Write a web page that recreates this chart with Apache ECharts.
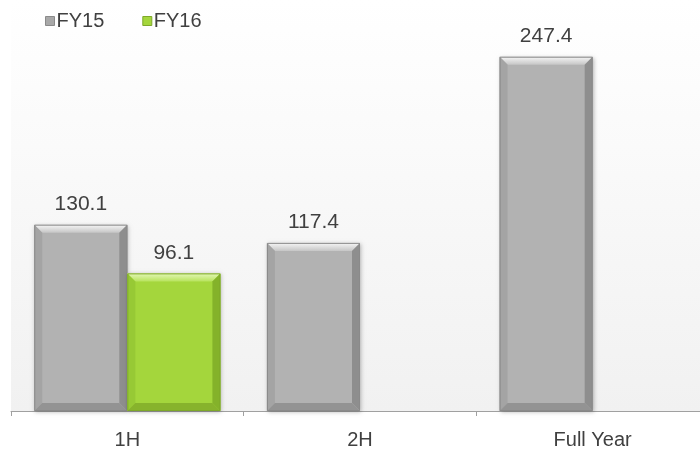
<!DOCTYPE html>
<html>
<head>
<meta charset="utf-8">
<title>FY15 vs FY16</title>
<script src="https://cdn.jsdelivr.net/npm/echarts@6/dist/echarts.min.js"></script>
<style>
  html, body { margin: 0; padding: 0; overflow: hidden; background: #ffffff; }
  /* the category axis runs a little past the right edge of the view */
  #chart { width: 709px; height: 450px; }
</style>
</head>
<body>
<div id="chart"></div>
<script>
const categories = ['1H', '2H', 'Full Year'];
const seriesNames = ['FY15', 'FY16'];
const fy15 = [130.1, 117.4, 247.4];
const fy16 = [96.1, null, null];

// Bevelled bar colours: face, top highlight, left edge, right edge, bottom edge, outline
const palettes = {
  FY15: { face: '#b2b2b2', hiTop: '#f6f6f6', hiEnd: '#c6c6c6', left: '#a4a4a4', right: '#8e8e8e', bottom: '#939393', line: '#8a8a8a' },
  FY16: { face: '#a4d63c', hiTop: '#e4f7b8', hiEnd: '#b8e35e', left: '#97c935', right: '#84b22a', bottom: '#87b32c', line: '#7ea82a' }
};

function toPairs(values) {
  const out = [];
  values.forEach((v, i) => { if (v != null) out.push([i, v]); });
  return out;
}

// Draws one bevelled bar; slot is -1 (left half of the band) or +1 (right half)
function bevelRenderer(slot, pal) {
  return function (params, api) {
    const cat = api.value(0);
    const val = api.value(1);
    const topPt = api.coord([cat, val]);
    const basePt = api.coord([cat, 0]);
    const band = api.size([1, 0])[0];
    const w = band * 0.4;
    const cx = topPt[0] + slot * band * 0.2;
    const x0 = cx - w / 2, x1 = cx + w / 2;
    const y0 = topPt[1], y1 = basePt[1];
    const b = Math.min(8, (y1 - y0) / 3);
    return {
      type: 'group',
      children: [
        {
          type: 'rect',
          shape: { x: x0, y: y0, width: w, height: y1 - y0 },
          style: { fill: pal.face, shadowBlur: 4, shadowColor: 'rgba(0,0,0,0.28)', shadowOffsetX: 1, shadowOffsetY: 1 }
        },
        {
          type: 'polygon',
          shape: { points: [[x0, y0], [x1, y0], [x1 - b, y0 + b], [x0 + b, y0 + b]] },
          style: { fill: new echarts.graphic.LinearGradient(0, 0, 0, 1, [
            { offset: 0, color: pal.hiTop }, { offset: 1, color: pal.hiEnd }]) }
        },
        {
          type: 'polygon',
          shape: { points: [[x0, y0], [x0 + b, y0 + b], [x0 + b, y1 - b], [x0, y1]] },
          style: { fill: pal.left }
        },
        {
          type: 'polygon',
          shape: { points: [[x1, y0], [x1, y1], [x1 - b, y1 - b], [x1 - b, y0 + b]] },
          style: { fill: pal.right }
        },
        {
          type: 'polygon',
          shape: { points: [[x0, y1], [x0 + b, y1 - b], [x1 - b, y1 - b], [x1, y1]] },
          style: { fill: pal.bottom }
        },
        {
          type: 'rect',
          shape: { x: x0 + 0.5, y: y0 + 0.5, width: w - 1, height: y1 - y0 - 1 },
          style: { fill: 'none', stroke: pal.line, lineWidth: 1 }
        },
        {
          type: 'text',
          x: cx,
          y: y0 - 10,
          style: {
            text: val.toFixed(1),
            align: 'center',
            verticalAlign: 'bottom',
            fill: '#404040',
            font: '21px "Liberation Sans", Arial, sans-serif'
          }
        }
      ]
    };
  };
}

const chart = echarts.init(document.getElementById('chart'), null, { renderer: 'canvas' });

chart.setOption({
  animation: false,
  backgroundColor: '#ffffff',
  textStyle: { fontFamily: '"Liberation Sans", Arial, sans-serif' },
  // soft plot-area wash from white at the top down to light grey at the axis
  graphic: [{
    type: 'rect',
    left: 11,
    top: 0,
    z: -10,
    silent: true,
    shape: { width: 698, height: 411 },
    style: {
      fill: new echarts.graphic.LinearGradient(0, 0, 0, 1, [
        { offset: 0, color: '#ffffff' },
        { offset: 1, color: '#f1f1f1' }
      ])
    }
  }],
  legend: {
    left: 40,
    top: 6,
    icon: 'rect',
    itemWidth: 9,
    itemHeight: 9,
    itemGap: 38,
    textStyle: { fontSize: 20, color: '#404040', padding: [0, 0, 0, -3] },
    data: [
      { name: seriesNames[0], itemStyle: { color: '#a8a8a8', borderColor: '#8a8a8a', borderWidth: 1 } },
      { name: seriesNames[1], itemStyle: { color: '#a4d63c', borderColor: '#7ea82a', borderWidth: 1 } }
    ]
  },
  grid: { left: 11, right: 0, top: 53, bottom: 39 },
  xAxis: {
    type: 'category',
    data: categories,
    axisLine: { lineStyle: { color: '#a0a0a0', width: 1 } },
    axisTick: { show: true, length: 5, alignWithLabel: false, lineStyle: { color: '#a0a0a0' } },
    axisLabel: { fontSize: 20, color: '#404040', margin: 19 }
  },
  yAxis: {
    type: 'value',
    min: 0,
    max: 250,
    show: false,
    splitLine: { show: false }
  },
  series: [
    {
      name: seriesNames[0],
      type: 'custom',
      itemStyle: { color: palettes.FY15.face },
      encode: { x: 0, y: 1 },
      data: toPairs(fy15),
      renderItem: bevelRenderer(-1, palettes.FY15)
    },
    {
      name: seriesNames[1],
      type: 'custom',
      itemStyle: { color: palettes.FY16.face },
      encode: { x: 0, y: 1 },
      data: toPairs(fy16),
      renderItem: bevelRenderer(1, palettes.FY16)
    }
  ]
});
</script>
</body>
</html>
